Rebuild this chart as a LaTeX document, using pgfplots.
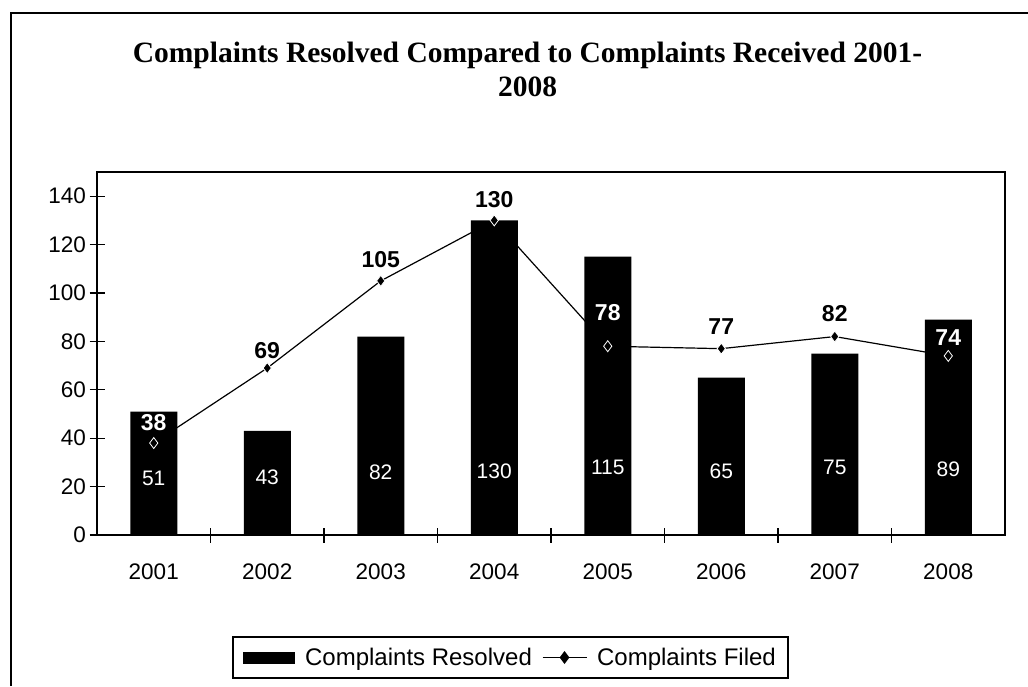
\documentclass[border=0pt]{standalone}
\usepackage{pgfplots}
\pgfplotsset{compat=1.18}
\usepackage{fontspec}
\setmainfont{Liberation Sans}
\newfontfamily\titlefont{Liberation Serif}
\pgfplotsset{
  barlegend/.style={legend image code/.code={\fill[black] (0pt,-6pt) rectangle (52pt,6pt);}},
  linelegend/.style={legend image code/.code={%
    \draw[black, line width=1.2pt] (0pt,0pt) -- (44pt,0pt);
    \draw[black, mark=diamond*, mark size=5.5pt, mark options={fill=black, draw=black}] plot coordinates {(22pt,0pt)};}},
}

\begin{document}
\begin{tikzpicture}[x=1pt,y=1pt]
\useasboundingbox (0,0) rectangle (1028,686);
\draw[line width=1.5pt] (11,0) -- (11,673) -- (1028,673);
\node[anchor=base, font=\titlefont\bfseries\fontsize{29.5}{34}\selectfont] at (527.5,623) {Complaints Resolved Compared to Complaints Received 2001-};
\node[anchor=base, font=\titlefont\bfseries\fontsize{29.5}{34}\selectfont] at (527.5,589) {2008};
\begin{axis}[
  at={(97pt,151pt)}, anchor=south west, scale only axis,
  width=908pt, height=363pt,
  xmin=-0.5, xmax=7.5, ymin=0, ymax=150,
  axis line style={line width=1.5pt},
  tick style={line width=1.2pt, black},
  tick pos=left,
  tick align=center, major tick length=15pt,
  ytick={0,20,...,140},
  xtick={0.5,1.5,...,6.5}, xticklabels={},
  extra x ticks={0,1,2,3,4,5,6,7},
  extra x tick labels={2001,2002,2003,2004,2005,2006,2007,2008},
  extra x tick style={major tick length=0pt},
  ticklabel style={font=\fontsize{22.5}{26}\selectfont},
  xticklabel style={yshift=-25pt},
  /pgf/number format/assume math mode=true,
  legend style={at={(rel axis cs:0.4554,-0.3375)}, anchor=center,
    draw=black, line width=1.5pt, font=\fontsize{24}{28}\selectfont,
    inner xsep=10pt, inner ysep=9pt,
    /tikz/every odd column/.append style={column sep=8pt},
    /tikz/every even column/.append style={column sep=8pt}},
  legend columns=2,
]
\addplot[ybar, bar width=47pt, fill=black, draw=none, barlegend]
  coordinates {(0,51) (1,43) (2,82) (3,130) (4,115) (5,65) (6,75) (7,89)};
\addlegendentry{Complaints Resolved}
\addplot[black, line width=1.2pt, mark=diamond*, mark size=5.5pt,
  mark options={fill=black, draw=white, line width=0.8pt}, linelegend]
  coordinates {(0,38) (1,69) (2,105) (3,130) (4,78) (5,77) (6,82) (7,74)};
\addlegendentry{Complaints Filed}
% bar value labels (white, inside bars)
\addplot[draw=none, mark=none, forget plot, nodes near coords, point meta=explicit symbolic,
  every node near coord/.append style={anchor=center, text=white, font=\fontsize{21}{24}\selectfont}]
  table[meta=label] {
x y label
0 23.5 51
1 24 43
2 26 82
3 26.5 130
4 28 115
5 26.5 65
6 28 75
7 27 89
};
% line labels, black
\addplot[draw=none, mark=none, forget plot, nodes near coords, point meta=explicit symbolic,
  every node near coord/.append style={anchor=center, text=black, font=\bfseries\fontsize{23}{26}\selectfont}]
  table[meta=label] {
x y label
1 76.2 69
2 113.7 105
3 138.8 130
5 86.1 77
6 91.4 82
};
% line labels, white (over bars)
\addplot[draw=none, mark=none, forget plot, nodes near coords, point meta=explicit symbolic,
  every node near coord/.append style={anchor=center, text=white, font=\bfseries\fontsize{23}{26}\selectfont}]
  table[meta=label] {
x y label
0 46.3 38
4 91.8 78
7 81.5 74
};
\end{axis}
\end{tikzpicture}
\end{document}
